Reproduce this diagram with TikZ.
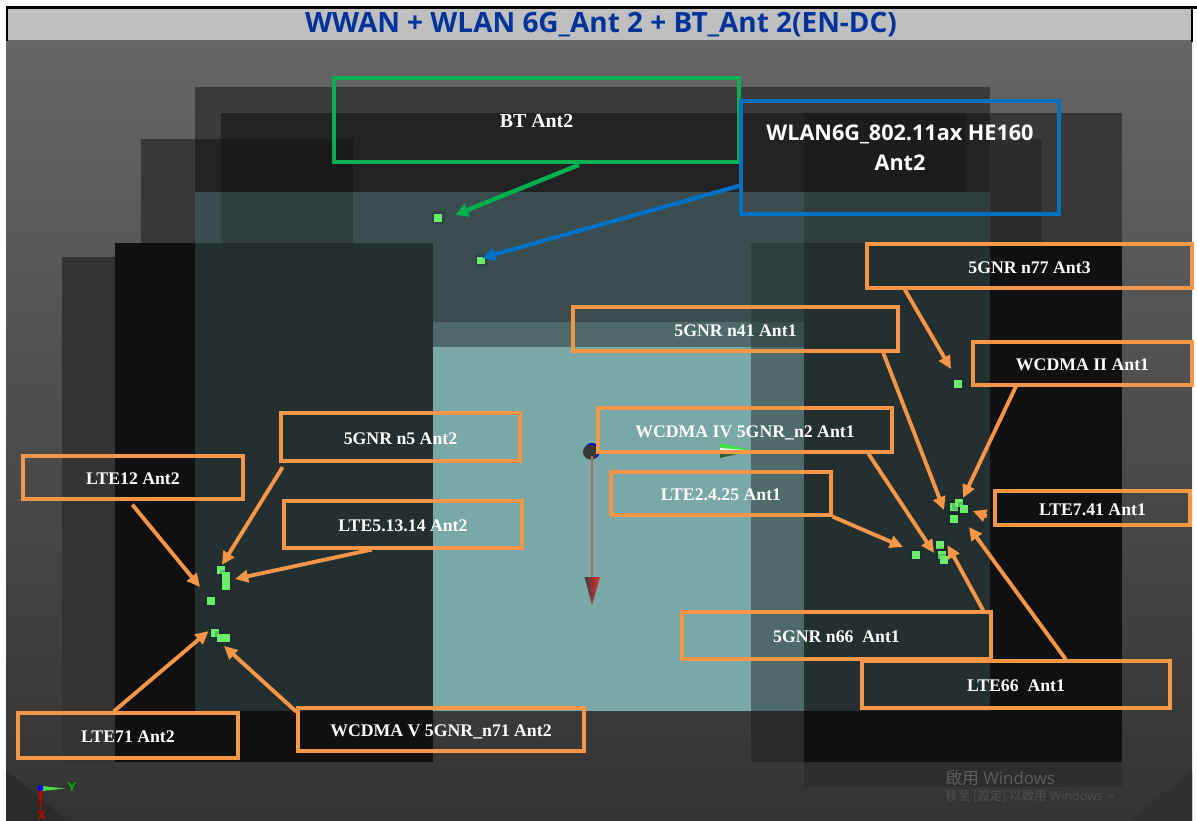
\documentclass[tikz,border=0pt]{standalone}
\usepackage{fontspec}
\setmainfont{Liberation Serif}
\newfontfamily\titlefont{Open Sans}
\newfontfamily\cjkfont{Noto Sans CJK TC}
\usetikzlibrary{arrows.meta,calc}
\definecolor{orangeline}{HTML}{F79646}
\definecolor{greenline}{HTML}{00B050}
\definecolor{blueline}{HTML}{0070C0}
\definecolor{titleblue}{HTML}{003399}
\definecolor{dotgreen}{HTML}{6CEB6C}
\definecolor{wmark}{HTML}{5E5E5E}
\definecolor{axisred}{HTML}{B06C6C}
\definecolor{conered}{HTML}{E83030}
\definecolor{conedark}{HTML}{3C3C3C}
\definecolor{conetop}{HTML}{44E044}
\definecolor{conemid}{HTML}{E8FFE8}
\definecolor{conelow}{HTML}{2F5F2F}
\newcommand\tile[5]{\definecolor{tc}{HTML}{#5}\fill[tc] (#1,#2) rectangle (#3,#4);}
\newcommand\antdot[4]{\fill[black!70!teal,opacity=.2] (#1-#3/2-2.5,#2-#4/2-2.5) rectangle (#1+#3/2+2.5,#2+#4/2+2.5);
  \fill[dotgreen] (#1-#3/2,#2-#4/2) rectangle (#1+#3/2,#2+#4/2);}
\newcommand\pbox[7]{\pgfmathsetmacro\bw{(#4-#2)*0.02}\pgfmathsetmacro\bh{(#5-#3)*0.02}
  \node[#6,minimum width=\bw cm,minimum height=\bh cm] (#1) at ({(#2+#4)/2},{(#3+#5)/2}) {#7};}
\tikzset{
  lab/.style={draw,line width=1.8pt,inner sep=0pt,text=white,align=center,
    font=\bfseries\fontsize{10.1}{12}\selectfont,text height=.8em,text depth=0pt},
  obox/.style={lab,draw=orangeline},
  gbox/.style={lab,draw=greenline,font=\bfseries\fontsize{11.3}{13}\selectfont},
  bbox/.style={draw=blueline,line width=1.8pt,inner sep=0pt},
  blab/.style={inner sep=0pt,text=white,align=center,font=\titlefont\bfseries\fontsize{12.3}{17}\selectfont},
  oarrow/.style={draw=orangeline,line width=2.2pt,-{Triangle[length=7.5pt,width=7pt]}},
  garrow/.style={draw=greenline,line width=2.5pt,-{Triangle[length=7.5pt,width=7.5pt]}},
  barrow/.style={draw=blueline,line width=2.5pt,-{Triangle[length=7.5pt,width=7.5pt]}},
}
\begin{document}
\begin{tikzpicture}[x=0.02cm,y=-0.02cm]
\useasboundingbox (0,0) rectangle (1197,821);
\fill[white] (0,0) rectangle (1197,821);
% window background
\shade[top color=black!60,middle color=black!66,bottom color=black!80] (6,41) rectangle (1192,821);
\fill[black!83] (6,770) -- (68,821) -- (6,821) -- cycle;
\fill[black!81] (1192,770) -- (1130,821) -- (1192,821) -- cycle;
% layered model
\tile{62}{257}{115}{762}{333333}
\tile{141}{139}{195}{243}{383838}
\tile{115}{243}{195}{762}{101010}
\tile{195}{711}{433}{762}{101010}
\tile{195}{87}{990}{113}{3A3A3A}
\tile{195}{113}{221}{139}{3A3A3A}
\tile{195}{139}{221}{192}{232323}
\tile{221}{113}{990}{192}{232323}
\tile{221}{139}{353}{192}{1A1A1A}
\tile{804}{113}{966}{192}{1C1C1C}
\tile{195}{192}{990}{322}{3B4D4E}
\tile{195}{192}{221}{243}{3A4C50}
\tile{221}{192}{353}{243}{2F3D3D}
\tile{804}{192}{990}{243}{2F3D3D}
\tile{195}{243}{433}{711}{243030}
\tile{433}{322}{751}{347}{4F6A6A}
\tile{433}{347}{751}{711}{7AA8A6}
\tile{751}{243}{804}{322}{303F3F}
\tile{751}{322}{804}{347}{3A4E4E}
\tile{751}{347}{804}{711}{4F6A6A}
\tile{804}{243}{990}{711}{243030}
\tile{990}{113}{1122}{243}{383838}
\tile{990}{139}{1042}{243}{2C2C2C}
\tile{990}{243}{1122}{762}{101010}
\tile{751}{711}{804}{762}{2A2A2A}
\tile{804}{711}{990}{762}{101010}
\tile{804}{762}{1122}{787}{2D2D2D}
% title bar
\fill[black!25] (8,9) rectangle (1192,40);
\fill[black] (6,6) rectangle (1197,9);
\fill[black] (6,6) rectangle (8,41);
\fill[black] (1191,9) rectangle (1193,42);
\node[inner sep=0pt,text=titleblue,font=\titlefont\bfseries\fontsize{15.9}{18}\selectfont] (title) at (601,25) {WWAN + WLAN 6G\_Ant 2 + BT\_Ant 2(EN-DC)};
% main axes
\fill[blue!85!black] (592,451) circle (8);
\fill[black!78] (590.5,452) circle (7.5);
\fill[axisred] (591,456) rectangle (593,578);
\shade[left color=conedark,right color=conered] (584.5,577) -- (600,577) -- (592,605) -- cycle;
\fill[conetop] (720,443) -- (752,450.5) -- (720,449) -- cycle;
\fill[conemid] (720,448) -- (752,450.5) -- (720,453) -- cycle;
\fill[conelow] (720,453) -- (752,450.5) -- (720,458) -- cycle;
% small axes
\fill[conetop] (42,786) -- (65,788.5) -- (42,791) -- cycle;
\fill[red!75!black] (38.5,790) -- (42.5,790) -- (40.5,814) -- cycle;
\fill[blue] (40.5,788) circle (3);
\node[inner sep=0pt,text=green!70!black,font=\sffamily\bfseries\fontsize{7.5}{9}\selectfont] (axisy) at (72,787) {Y};
\node[inner sep=0pt,text=red!80!black,font=\sffamily\bfseries\fontsize{7}{8}\selectfont] (axisx) at (42,815) {X};
% antenna points
\antdot{438}{217.5}{8}{8}
\antdot{481}{260.7}{7.5}{7.5}
\antdot{958}{384}{7.5}{7.5}
\antdot{954}{507}{8}{8}
\antdot{958.7}{503}{8}{8}
\antdot{964}{508.7}{8}{8}
\antdot{953.7}{518.7}{8}{8}
\antdot{940}{544.7}{8}{8}
\antdot{942.3}{554.7}{8}{8}
\antdot{944.3}{560}{8}{8}
\antdot{916.3}{554.7}{8}{8}
\antdot{220.7}{570}{8}{8}
\antdot{226}{581}{8}{18}
\antdot{210.7}{601}{8}{8}
\antdot{215.3}{632.7}{8}{8}
\antdot{223.5}{637.5}{13}{8}
% label boxes
\pbox{bt}{334}{78}{739}{162}{gbox}{BT Ant2}
\pbox{wlan}{741}{101}{1059}{214}{bbox}{}
\node[blab] (wlantext) at (900,148) {WLAN6G\_802.11ax HE160\\Ant2};
\pbox{nsvn}{867}{244}{1192}{288}{obox}{5GNR n77 Ant3}
\pbox{nfo}{573}{307}{898}{351}{obox}{5GNR n41 Ant1}
\pbox{wii}{973}{342}{1192}{385}{obox}{WCDMA II Ant1}
\pbox{nfv}{281}{413}{520}{461}{obox}{5GNR n5 Ant2}
\pbox{wiv}{598}{408}{892}{452}{obox}{WCDMA IV 5GNR\_n2 Ant1}
\pbox{ltwf}{611}{472}{831}{515}{obox}{LTE2.4.25 Ant1}
\pbox{ltts}{23}{456}{243}{499}{obox}{LTE12 Ant2}
\pbox{ltfo}{284}{501}{522}{548}{obox}{LTE5.13.14 Ant2}
\pbox{ltsv}{995}{491}{1190}{525}{obox}{LTE7.41 Ant1}
\pbox{nss}{682}{612}{991}{659}{obox}{5GNR n66\ \ Ant1}
\pbox{ltss}{862}{661}{1170}{708}{obox}{LTE66\ \ Ant1}
\pbox{ltso}{18}{713}{238}{758}{obox}{LTE71 Ant2}
\pbox{wv}{298}{708}{584}{751}{obox}{WCDMA V 5GNR\_n71 Ant2}
% connector targets
\coordinate (hbt) at (455,215);
\coordinate (hwlan) at (482,258);
\coordinate (hnsvn) at (951,369);
\coordinate (hnfo) at (944,510);
\coordinate (hwii) at (963,498);
\coordinate (hltsv) at (973,511);
\coordinate (hltss) at (969,527);
\coordinate (hnss) at (947.5,545);
\coordinate (hltwf) at (903,547);
\coordinate (hwiv) at (934,553);
\coordinate (hnfv) at (222,565);
\coordinate (hltts) at (200,587);
\coordinate (hltfo) at (235,579);
\coordinate (hltso) at (208.6,631);
\coordinate (hwv) at (224,646);
% connectors
\draw[garrow,shorten <=2pt] ($(bt.south west)!.612!(bt.south east)$) -- (hbt);
\draw[barrow] ($(wlan.north west)!.743!(wlan.south west)$) -- (hwlan);
\draw[oarrow] ($(nsvn.south west)!.12!(nsvn.south east)$) -- (hnsvn);
\draw[oarrow] ($(nfo.south west)!.95!(nfo.south east)$) -- (hnfo);
\draw[oarrow] ($(wii.south west)!.2!(wii.south east)$) -- (hwii);
\draw[oarrow,shorten <=4pt] ($(ltsv.north west)!.79!(ltsv.south west)$) -- (hltsv);
\draw[oarrow] ($(ltss.north west)!.66!(ltss.north east)$) -- (hltss);
\draw[oarrow] ($(nss.north west)!.97!(nss.north east)$) -- (hnss);
\draw[oarrow] (ltwf.south east) -- (hltwf);
\draw[oarrow] ($(wiv.south west)!.915!(wiv.south east)$) -- (hwiv);
\draw[oarrow,shorten <=3pt] ($(nfv.south west)!.025!(nfv.south east)$) -- (hnfv);
\draw[oarrow,shorten <=3pt] ($(ltts.south west)!.482!(ltts.south east)$) -- (hltts);
\draw[oarrow] ($(ltfo.south west)!.37!(ltfo.south east)$) -- (hltfo);
\draw[oarrow] ($(ltso.north west)!.436!(ltso.north east)$) -- (hltso);
\draw[oarrow] ($(wv.north west)!.116!(wv.south west)$) -- (hwv);
% watermark
\node[anchor=west,inner sep=0pt,text=wmark,font=\fontsize{9.6}{11}\selectfont] (wma) at (945,778) {{\cjkfont 啟用} \fontspec{Open Sans}Windows};
\node[anchor=west,inner sep=0pt,text=wmark!85!black,font=\fontsize{7.1}{8}\selectfont] (wmb) at (945,796) {{\cjkfont 移至 [設定] 以啟用} \fontspec{Open Sans}Windows\,{\cjkfont 。}};
\end{tikzpicture}
\end{document}
